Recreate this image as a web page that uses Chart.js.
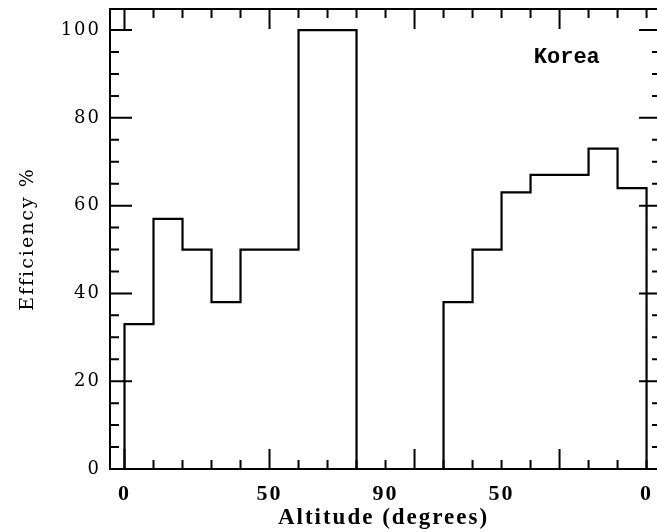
<!DOCTYPE html>
<html>
<head>
<meta charset="utf-8">
<script src="https://cdn.jsdelivr.net/npm/chart.js@4.4.1/dist/chart.umd.min.js"></script>
<style>
    html, body { margin: 0; padding: 0; background: #fff; overflow: hidden; }
    #effChart { display: block; }
</style>
</head>
<body>
<canvas id="effChart" width="657" height="532"></canvas>
<script>
// Bin edges along the folded altitude axis: 0 -> 90 going up, then back down to 0 (stored as 90 -> 180)
const binEdges = [0, 10, 20, 30, 40, 60, 80, 110, 120, 130, 140, 160, 170, 180];
// Efficiency (%) in each bin
const efficiency = [33, 57, 50, 38, 50, 100, 0, 38, 50, 63, 67, 73, 64];
// Axis labels
const xTickValues = [0, 50, 90, 130, 180];
const xTickLabels = ["0", "50", "90", "50", "0"];
const yTickValues = [0, 20, 40, 60, 80, 100];
const siteName = "Korea";

// Step outline points: each value starts at its bin's left edge
const points = [{ x: binEdges[0], y: 0 }];
efficiency.forEach(function (v, i) {
    points.push({ x: binEdges[i], y: v });
});
points.push({ x: binEdges[binEdges.length - 1], y: 0 });

// the plot frame runs a little past the right edge of the picture
const frameRight = 185;

// Frame, inward ticks and the site label
const framePlugin = {
    id: "frame",
    beforeDraw: function (chart) {
        chart.ctx.letterSpacing = "2px";
    },
    afterDatasetsDraw: function (chart) {
        const ctx = chart.ctx;
        const a = chart.chartArea;
        const x = chart.scales.x;
        const y = chart.scales.y;
        const right = x.getPixelForValue(frameRight);
        ctx.save();
        ctx.strokeStyle = "#000";
        ctx.lineWidth = 2;
        ctx.strokeRect(a.left, a.top, right - a.left, a.bottom - a.top);

        ctx.beginPath();
        for (let v = 0; v <= 180; v += 10) {
            const px = x.getPixelForValue(v);
            const len = v % 50 === 0 ? 20 : 9;
            ctx.moveTo(px, a.bottom);
            ctx.lineTo(px, a.bottom - len);
            ctx.moveTo(px, a.top);
            ctx.lineTo(px, a.top + len);
        }
        for (let v = 0; v <= 100; v += 5) {
            const py = y.getPixelForValue(v);
            const len = v % 20 === 0 ? 22 : 9;
            ctx.moveTo(a.left, py);
            ctx.lineTo(a.left + len, py);
            ctx.moveTo(right, py);
            ctx.lineTo(right - len, py);
        }
        ctx.stroke();

        ctx.letterSpacing = "0px";
        ctx.font = "bold 22px 'Liberation Mono'";
        ctx.fillStyle = "#000";
        ctx.textAlign = "center";
        ctx.textBaseline = "alphabetic";
        ctx.fillText(siteName, x.getPixelForValue(152.5), y.getPixelForValue(92.6));
        ctx.restore();
    },
    afterDraw: function (chart) {
        chart.ctx.letterSpacing = "0px";
    }
};

const ctx = document.getElementById("effChart").getContext("2d");
new Chart(ctx, {
    type: "line",
    data: {
        datasets: [{
            data: points,
            stepped: true,
            borderColor: "#000",
            borderWidth: 2.2,
            pointRadius: 0,
            fill: false
        }]
    },
    options: {
        responsive: false,
        animation: false,
        layout: { padding: { top: 9, right: 0, left: 0, bottom: 0 } },
        plugins: {
            legend: { display: false },
            tooltip: { enabled: false }
        },
        scales: {
            x: {
                type: "linear",
                min: -5,
                max: 183.6,
                grid: { display: false, drawTicks: false },
                border: { display: false },
                afterBuildTicks: function (scale) {
                    scale.ticks = xTickValues.map(function (v) { return { value: v }; });
                },
                afterFit: function (scale) {
                    scale.height = 63;
                    scale.paddingLeft = 0;
                    scale.paddingRight = 0;
                },
                ticks: {
                    autoSkip: false,
                    maxRotation: 0,
                    padding: 12,
                    color: "#000",
                    font: { family: "'Liberation Serif'", size: 22, weight: "bold" },
                    callback: function (value) {
                        const i = xTickValues.indexOf(value);
                        return i >= 0 ? xTickLabels[i] : "";
                    }
                },
                title: {
                    display: true,
                    text: "Altitude (degrees)",
                    color: "#000",
                    font: { family: "'Liberation Serif'", size: 23, weight: "bold" },
                    padding: { top: 0, bottom: 0 }
                }
            },
            y: {
                min: 0,
                max: 104.8,
                grid: { display: false, drawTicks: false },
                border: { display: false },
                afterBuildTicks: function (scale) {
                    scale.ticks = yTickValues.map(function (v) { return { value: v }; });
                },
                afterFit: function (scale) {
                    scale.width = 110;
                    scale.paddingTop = 0;
                    scale.paddingBottom = 0;
                },
                ticks: {
                    padding: 9,
                    color: "#000",
                    font: { family: "'DejaVu Serif'", size: 18 }
                },
                title: {
                    display: true,
                    text: "Efficiency %",
                    color: "#000",
                    font: { family: "'DejaVu Serif'", size: 19 },
                    padding: { top: 17, bottom: 0 }
                }
            }
        }
    },
    plugins: [framePlugin]
});
</script>
</body>
</html>
